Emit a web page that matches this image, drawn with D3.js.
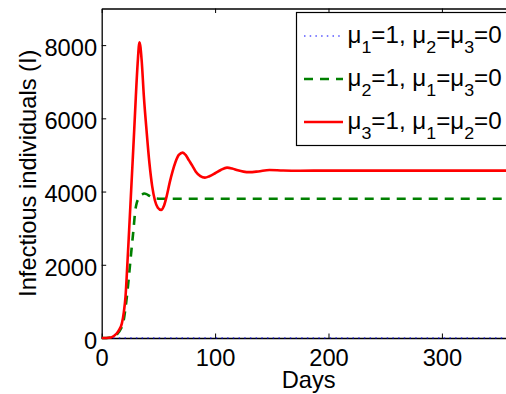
<!DOCTYPE html>
<html>
<head>
<meta charset="utf-8">
<script src="https://cdn.jsdelivr.net/npm/d3@7/dist/d3.min.js"></script>
<style>
  html, body { margin: 0; padding: 0; background: #fff; }
  svg { display: block; }
  text { font-family: "Liberation Sans", Arial, Helvetica, sans-serif; fill: #000; }
</style>
</head>
<body>
<svg id="chart" width="506" height="394"></svg>
<script>
// ---------------- data ----------------
const xTicks = [0, 100, 200, 300];
const yTicks = [0, 2000, 4000, 6000, 8000];
const xLabel = "Days";
const yLabel = "Infectious individuals (I)";

// series 1: mu1 = 1 (blue dotted, stays at ~0)
const blueDays = [0, 100, 200, 300, 365];
const blueVals = [0, 0, 0, 0, 0];

// series 2: mu2 = 1 (green dashed)
const greenDays = [0, 4, 8, 11, 14, 17, 19.2, 20.7, 22.2, 23.7, 25.1, 26.6, 28, 29.5, 31, 32.5, 34, 35.7, 37.4, 39.5, 42, 45, 48, 52, 60, 100, 200, 365];
const greenVals = [0, 2, 12, 45, 120, 260, 450, 750, 1128, 1580, 2040, 2520, 2951, 3450, 3700, 3800, 3870, 3920, 3945, 3930, 3885, 3840, 3815, 3805, 3805, 3805, 3805, 3805];

// series 3: mu3 = 1 (red solid)
const redDays = [0, 4, 8, 11, 13.4, 15.5, 17.8, 19.5, 21, 22.6, 24.2, 25.7, 27.2, 28.7, 30.1, 31.7, 33.3, 35.2, 37.2, 39.6, 42.1, 44.5, 47, 49.5, 52.4, 55, 57.5, 60, 62.5, 65, 68, 71.5, 74, 77, 80, 83, 87, 91, 95, 100, 105, 110.5, 115, 120, 125, 130, 138, 148, 160, 175, 200, 250, 300, 365];
const redVals = [0, 2, 15, 60, 128, 230, 400, 700, 1128, 2000, 2951, 3860, 4773, 5700, 6593, 7500, 8080, 7600, 6593, 5650, 4773, 4150, 3750, 3560, 3500, 3620, 3900, 4250, 4550, 4800, 5000, 5063, 5000, 4850, 4700, 4540, 4420, 4380, 4420, 4500, 4590, 4653, 4630, 4580, 4545, 4530, 4550, 4590, 4575, 4570, 4572, 4572, 4572, 4572];

const legendLabels = ["μ_1=1, μ_2=μ_3=0", "μ_2=1, μ_1=μ_3=0", "μ_3=1, μ_1=μ_2=0"];
const seriesColors = ["#0000ff", "#008000", "#ff0000"];

// ---------------- drawing ----------------
const svg = d3.select("#chart");
const SX = 1.03; // horizontal glyph stretch
const FS = 23;
const FSUB = 17;

const x = d3.scaleLinear().domain([0, 365]).range([101.7, 515.6]);
const y = d3.scaleLinear().domain([0, 9000]).range([338, 8.5]);

const series = [
  { days: blueDays, vals: blueVals, color: seriesColors[0], width: 1.2, dash: "1.5,4.2" },
  { days: greenDays, vals: greenVals, color: seriesColors[1], width: 2.6, dash: "9,7" },
  { days: redDays, vals: redVals, color: seriesColors[2], width: 2.6, dash: null }
];

const line = d3.line()
  .x(d => x(d[0]))
  .y(d => y(d[1]))
  .curve(d3.curveMonotoneX);

// axes box
const tickLen = 4.5;
const gB = svg.append("g").attr("transform", `translate(0,${y(0)})`)
  .call(d3.axisBottom(x).tickValues(xTicks).tickSizeInner(-tickLen).tickSizeOuter(0).tickFormat(d3.format("d")));
const gT = svg.append("g").attr("transform", `translate(0,${y(9000)})`)
  .call(d3.axisTop(x).tickValues(xTicks).tickSizeInner(-tickLen).tickSizeOuter(0).tickFormat(""));
const gL = svg.append("g").attr("transform", `translate(${x(0)},0)`)
  .call(d3.axisLeft(y).tickValues(yTicks).tickSizeInner(-tickLen).tickSizeOuter(0).tickPadding(4.5).tickFormat(d3.format("d")));
const gR = svg.append("g").attr("transform", `translate(${x(365)},0)`)
  .call(d3.axisRight(y).tickValues(yTicks).tickSizeInner(-tickLen).tickSizeOuter(0).tickFormat(""));

[gB, gT, gL, gR].forEach(g => {
  g.select(".domain").attr("stroke", "#000").attr("stroke-width", 1.3);
  g.selectAll(".tick line").attr("stroke", "#000").attr("stroke-width", 1);
});

gB.selectAll(".tick text")
  .attr("font-size", FS).attr("font-family", null)
  .attr("y", 0).attr("dy", 0)
  .attr("transform", `translate(0,27.5) scale(${SX},1)`);
gL.selectAll(".tick text")
  .attr("font-size", FS).attr("font-family", null)
  .attr("dy", 10.3)
  .attr("transform", `scale(${SX},1)`);

// series lines (blue drawn on top of axis)
series.forEach(s => {
  svg.append("path")
    .datum(d3.zip(s.days, s.vals))
    .attr("fill", "none")
    .attr("stroke", s.color)
    .attr("stroke-width", s.width)
    .attr("stroke-dasharray", s.dash)
    .attr("stroke-linejoin", "round")
    .attr("d", line);
});

// axis labels
svg.append("text")
  .attr("transform", `translate(${(x(0) + x(365)) / 2},388) scale(${SX},1)`)
  .attr("text-anchor", "middle")
  .attr("font-size", FS)
  .text(xLabel);

svg.append("text")
  .attr("transform", `translate(35.5,${(y(0) + y(9000)) / 2}) rotate(-90) scale(${SX},1)`)
  .attr("text-anchor", "middle")
  .attr("font-size", FS)
  .text(yLabel);

// legend
const lg = svg.append("g");
lg.append("rect")
  .attr("x", 296.5).attr("y", 12.5)
  .attr("width", 230).attr("height", 133)
  .attr("fill", "#fff").attr("stroke", "#000").attr("stroke-width", 1.2);

legendLabels.forEach((lab, i) => {
  const s = series[i];
  const ly = 36 + i * 43;
  lg.append("line")
    .attr("x1", 304).attr("x2", 343)
    .attr("y1", ly).attr("y2", ly)
    .attr("stroke", s.color)
    .attr("stroke-width", s.width)
    .attr("stroke-dasharray", s.dash);
  const t = lg.append("text")
    .attr("transform", `translate(347.5,${ly + 7}) scale(1.05,1)`)
    .attr("font-size", FS);
  // parse "_d" as subscript digit
  const parts = lab.split("_");
  parts.forEach((p, k) => {
    if (k === 0) {
      t.append("tspan").text(p);
    } else {
      t.append("tspan").attr("font-size", FSUB).attr("dy", 10).text(p[0]);
      t.append("tspan").attr("dy", -10).text(p.slice(1));
    }
  });
});
</script>
</body>
</html>
